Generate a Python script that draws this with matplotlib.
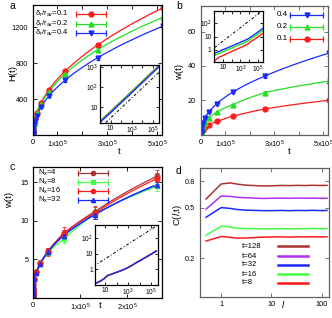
import numpy as np
import matplotlib
matplotlib.use("Agg")
import matplotlib.pyplot as plt
from matplotlib.lines import Line2D

plt.rcParams['font.family'] = ['Liberation Sans', 'DejaVu Sans']
plt.rcParams['mathtext.fontset'] = 'custom'
plt.rcParams['mathtext.rm'] = 'Liberation Sans'
plt.rcParams['mathtext.it'] = 'Liberation Sans:italic'
plt.rcParams['mathtext.default'] = 'regular'

W, H = 332, 318

# ---------------- data ----------------
t_a = 2.0 ** np.arange(0, 20)
H_red = [2.0, 2.8, 3.9, 5.5, 7.8, 11, 15.6, 22, 31, 44, 62, 88, 125, 177, 250, 352, 505, 712, 1005, 1420]
H_green = [1.9, 2.7, 3.8, 5.3, 7.5, 10.6, 15, 21, 30, 42, 60, 85, 121, 172, 243, 342, 482, 685, 952, 1314]
H_blue = [1.7, 2.4, 3.4, 4.7, 6.6, 9.4, 13.2, 18.7, 26.4, 37, 53, 75, 107, 152, 213, 308, 434, 611, 863, 1215]
Herr_red = [0, 0, 0, 0, 0, 0, 0, 0, 1, 1, 2, 2, 3, 4, 5, 8, 10, 14, 18, 22]
Herr_green = [0, 0, 0, 0, 0, 0, 0, 0, 1, 1, 2, 2, 3, 4, 5, 8, 10, 12, 16, 22]
Herr_blue = [0, 0, 0, 0, 0, 0, 0, 0, 1, 1, 2, 2, 3, 4, 6, 8, 12, 16, 22, 30]
labels_a = [r'$\delta_r/r_{av}$=0.1', r'$\delta_r/r_{av}$=0.2', r'$\delta_r/r_{av}$=0.4']
ref_a_t = [1, 5.2e5]
ref_a_y = [0.9, 650]

t_b = 2.0 ** np.arange(0, 20)
w_blue = [0.55, 0.68, 0.82, 1.0, 1.2, 1.45, 1.75, 2.1, 2.6, 3.1, 3.8, 4.6, 5.6, 7.0, 9.6, 12.9, 17.9, 24.7, 34.1, 47.5]
w_green = [0.38, 0.47, 0.57, 0.7, 0.85, 1.02, 1.23, 1.5, 1.8, 2.2, 2.65, 3.2, 3.9, 5.0, 7.0, 9.6, 12.9, 17.5, 24.4, 31.2]
w_red = [0.15, 0.22, 0.3, 0.36, 0.45, 0.55, 0.68, 0.83, 1.0, 1.25, 1.5, 1.85, 2.3, 2.9, 4.3, 5.7, 7.6, 10.6, 14.9, 20.0]
werr_blue = [0]*14 + [0.3, 0.4, 0.5, 0.7, 1.0, 1.5]
werr_green = [0]*14 + [0.2, 0.3, 0.4, 0.5, 0.8, 1.2]
werr_red = [0]*14 + [0.2, 0.2, 0.3, 0.4, 0.5, 0.6]
labels_b = ['0.4', '0.2', '0.1']
ref_b_t = [1, 5.2e5]
ref_b_y = [1.5, 1080]

t_c = 2.0 ** np.arange(0, 19)
w_n4 = [0.12, 0.14, 0.18, 0.25, 0.40, 0.48, 0.58, 0.70, 0.85, 1.05, 1.35, 1.8, 2.5, 3.4, 4.5, 6.1, 8.3, 11.2, 15.8]
w_n8 = [0.12, 0.14, 0.18, 0.25, 0.40, 0.48, 0.58, 0.70, 0.85, 1.05, 1.35, 1.8, 2.5, 3.3, 4.6, 5.9, 7.6, 10.9, 14.5]
w_n16 = [0.12, 0.14, 0.18, 0.25, 0.40, 0.48, 0.58, 0.70, 0.85, 1.05, 1.35, 1.8, 2.5, 3.4, 4.5, 6.0, 8.4, 11.0, 15.5]
w_n32 = [0.12, 0.14, 0.18, 0.25, 0.40, 0.48, 0.58, 0.70, 0.85, 1.05, 1.35, 1.8, 2.5, 3.3, 4.4, 6.0, 8.1, 10.8, 14.7]
werr_n4 = [0]*12 + [0.1, 0.2, 0.3, 0.4, 0.5, 0.7, 0.8]
werr_n8 = [0]*12 + [0.1, 0.2, 0.3, 0.4, 0.5, 0.6, 0.6]
werr_n16 = [0]*12 + [0.1, 0.2, 0.3, 0.5, 0.8, 0.8, 0.7]
werr_n32 = [0]*12 + [0.1, 0.1, 0.2, 0.3, 0.4, 0.5, 0.4]
labels_c = [r'N$_x$=4', r'N$_x$=8', r'N$_x$=16', r'N$_x$=32']
ref_c_t = [1, 3e5]
ref_c_y = [1.6, 650]

l_d = [0.5, 1, 1.5, 2, 3, 4, 6, 8, 12, 16, 24, 32, 48, 64, 96, 128]
C_128 = [0.584, 0.765, 0.78, 0.765, 0.75, 0.745, 0.74, 0.738, 0.742, 0.745, 0.743, 0.746, 0.744, 0.747, 0.745, 0.746]
C_64 = [0.487, 0.616, 0.612, 0.603, 0.597, 0.595, 0.59, 0.59, 0.592, 0.593, 0.591, 0.594, 0.592, 0.593, 0.591, 0.592]
C_32 = [0.42, 0.50, 0.493, 0.484, 0.478, 0.476, 0.474, 0.473, 0.474, 0.475, 0.473, 0.475, 0.474, 0.476, 0.474, 0.475]
C_16 = [0.304, 0.358, 0.352, 0.346, 0.343, 0.342, 0.342, 0.341, 0.342, 0.343, 0.341, 0.343, 0.342, 0.344, 0.342, 0.343]
C_8 = [0.274, 0.297, 0.293, 0.289, 0.289, 0.291, 0.293, 0.294, 0.295, 0.295, 0.294, 0.296, 0.295, 0.296, 0.295, 0.296]
labels_d = ['t=128', 't=64', 't=32', 't=16', 't=8']

RED = '#ff1a1a'
GREEN = '#22e022'
BLUE = '#1a2aff'
BROWN = '#a83232'
PURPLE = '#b030f0'
LGREEN = '#44ff44'
GRAY = '#606060'

TICK_FS = 5.3
LEG_FS = 5.5
LAB_FS = 6.8

fig = plt.figure(figsize=(W / 100, H / 100), dpi=100)


def ax_at(x0, y0, x1, y1):
    return fig.add_axes([x0 / W, 1 - y1 / H, (x1 - x0) / W, (y1 - y0) / H])


def fx(px):
    return px / W


def fy(py):
    return 1 - py / H


def style(ax, fcolor='black', ls=TICK_FS):
    ax.tick_params(direction='in', length=3, width=0.6, labelsize=ls, pad=3,
                   top=True, right=True, colors=fcolor, labelcolor='black')
    for s in ax.spines.values():
        s.set_color(fcolor)
        s.set_linewidth(0.9)


def smooth(t, y, n=400):
    t = np.asarray(t, float)
    y = np.asarray(y, float)
    tt = np.logspace(np.log10(t[0]), np.log10(t[-1]), n)
    yy = np.exp(np.interp(np.log(tt), np.log(t), np.log(y)))
    return tt, yy


def legend_sample(xa, xb, y, color, marker=None, ms=3.5, lw=0.9, caps=True):
    fig.add_artist(Line2D([fx(xa), fx(xb)], [fy(y), fy(y)], color=color, lw=lw,
                          transform=fig.transFigure))
    if caps:
        fig.add_artist(Line2D([fx(xa), fx(xb)], [fy(y), fy(y)], color=color, lw=0,
                              marker='|', ms=4, mew=0.9, transform=fig.transFigure))
    if marker:
        fig.add_artist(Line2D([fx((xa + xb) / 2)], [fy(y)], color=color, lw=0,
                              marker=marker, ms=ms, transform=fig.transFigure))


xt_lin = [0, 1e5, 2e5, 3e5, 4e5, 5e5]
xt_lin_lab = ['0', r'1x10$^5$', '', r'3x10$^5$', '', r'5x10$^5$']

# ---------------- panel a ----------------
axa = ax_at(32.5, 5, 162, 135)
style(axa)
series_a = [(H_red, Herr_red, RED, 'o'), (H_green, Herr_green, GREEN, '^'),
            (H_blue, Herr_blue, BLUE, 'v')]
for y, e, c, m in series_a:
    tt, yy = smooth(t_a, y)
    axa.plot(tt, yy, color=c, lw=0.9)
    axa.errorbar(t_a, y, yerr=e, fmt=m, color=c, ms=3.5, elinewidth=0.7, capsize=1.5, capthick=0.7)
axa.set_xlim(0, 5.2e5)
axa.set_ylim(0, 1450)
axa.set_xticks(xt_lin)
axa.set_xticklabels(xt_lin_lab)
axa.set_yticks([0, 400, 800, 1200])
axa.set_yticklabels(['', '400', '800', '1200'])

ins_a = ax_at(100, 65, 159, 123)
style(ins_a, ls=4.8)
ins_a.tick_params(length=2, pad=1.5)
for y, e, c, m in series_a:
    ins_a.loglog(t_a, y, color=c, lw=1.0)
ins_a.loglog(ref_a_t, ref_a_y, color='black', lw=0.7, ls=(0, (3, 2, 1, 2)))
ins_a.set_xlim(1, 3.7e5)
ins_a.set_ylim(1.6, 1260)
ins_a.minorticks_off()
ins_a.set_xticks([10, 1e2, 1e3, 1e4, 1e5])
ins_a.set_xticklabels(['10', '', r'10$^3$', '', r'10$^5$'])
ins_a.set_yticks([10, 1e2, 1e3])
ins_a.set_yticklabels(['10', r'10$^2$', r'10$^3$'])

for lab, yy, (y, e, c, m) in zip(labels_a, [14, 24, 33], series_a):
    fig.text(fx(35), fy(yy), lab, fontsize=LEG_FS, ha='left', va='center')
    legend_sample(76, 106, yy, c, m)

# ---------------- panel b ----------------
axb = ax_at(200.5, 6, 328, 134.5)
style(axb, GRAY)
series_b = [(w_blue, werr_blue, BLUE, 'v'), (w_green, werr_green, GREEN, '^'),
            (w_red, werr_red, RED, 'o')]
for y, e, c, m in series_b[::-1]:
    tt, yy = smooth(t_b, y)
    axb.plot(tt, yy, color=c, lw=0.9)
    axb.errorbar(t_b, y, yerr=e, fmt=m, color=c, ms=3.5, elinewidth=0.7, capsize=1.5, capthick=0.7)
axb.set_xlim(0, 5.2e5)
axb.set_ylim(0, 75)
axb.set_xticks(xt_lin)
axb.set_xticklabels(xt_lin_lab)
axb.set_yticks([0, 20, 40, 60])
axb.set_yticklabels(['', '20', '40', '60'])

ins_b = ax_at(213.7, 11, 262.7, 61.7)
style(ins_b, ls=4.8)
ins_b.tick_params(length=2, pad=1.5)
for y, e, c, m in series_b:
    ins_b.loglog(t_b, y, color=c, lw=1.0)
ins_b.loglog(ref_b_t, ref_b_y, color='black', lw=0.7, ls=(0, (3, 2, 1, 2)))
ins_b.set_xlim(0.8, 3.8e5)
ins_b.set_ylim(0.13, 850)
ins_b.minorticks_off()
ins_b.set_xticks([10, 1e2, 1e3, 1e4, 1e5])
ins_b.set_xticklabels(['10', '', r'10$^3$', '', r'10$^5$'])
ins_b.set_yticks([1, 10, 1e2])
ins_b.set_yticklabels(['1', '10', r'10$^2$'])

for lab, yy, (y, e, c, m) in zip(labels_b, [15, 27, 39], series_b):
    fig.text(fx(277), fy(yy), lab, fontsize=LEG_FS + 0.3, ha='left', va='center')
    legend_sample(290, 323, yy, c, m)

# ---------------- panel c ----------------
axc = ax_at(32.5, 167, 162, 298)
style(axc)
series_c = [(w_n4, werr_n4, BROWN, 'o'), (w_n8, werr_n8, LGREEN, 's'),
            (w_n16, werr_n16, RED, 'o'), (w_n32, werr_n32, BLUE, '^')]
for y, e, c, m in series_c:
    tt, yy = smooth(t_c, y)
    axc.plot(tt, yy, color=c, lw=0.9)
for y, e, c, m in series_c:
    axc.errorbar(t_c, y, yerr=e, fmt=m, color=c, ms=3.2 if m != 'o' else 3.5,
                 elinewidth=0.7, capsize=1.5, capthick=0.7, alpha=0.85)
tt, yy = smooth(t_c, w_n32)
axc.plot(tt, yy, color=BLUE, lw=0.9)
axc.set_xlim(0, 2.73e5)
axc.set_ylim(0, 17)
axc.set_xticks([0, 1e5, 2e5])
axc.set_xticklabels(['0', r'1x10$^5$', r'2x10$^5$'])
axc.set_yticks([0, 5, 10, 15])
axc.set_yticklabels(['', '5', '10', '15'])

ins_c = ax_at(95, 225, 158.3, 285)
style(ins_c, ls=4.8)
ins_c.tick_params(length=2, pad=1.5)
for y, e, c, m in series_c:
    ins_c.loglog(t_c, y, color=c, lw=1.0)
ins_c.loglog(ref_c_t, ref_c_y, color='black', lw=0.7, ls=(0, (3, 2, 1, 2)))
ins_c.set_xlim(1.35, 4e5)
ins_c.set_ylim(0.1, 720)
ins_c.minorticks_off()
ins_c.set_xticks([10, 1e2, 1e3, 1e4, 1e5])
ins_c.set_xticklabels(['10', '', r'10$^3$', '', r'10$^5$'])
ins_c.set_yticks([1, 10, 1e2])
ins_c.set_yticklabels(['1', '10', r'10$^2$'])

for lab, yy, (y, e, c, m) in zip(labels_c, [173, 182, 191.3, 200.3], series_c):
    fig.text(fx(37.5), fy(yy), lab, fontsize=LEG_FS, ha='left', va='center')
    legend_sample(77.7, 108.3, yy, c, m, ms=3.0)

# ---------------- panel d ----------------
axd = ax_at(199.5, 168, 329, 297)
style(axd, GRAY)
series_d = [(C_128, BROWN), (C_64, PURPLE), (C_32, BLUE), (C_16, LGREEN), (C_8, RED)]
for y, c in series_d:
    axd.plot(l_d, y, color=c, lw=1.1)
axd.set_xscale('log')
axd.set_yscale('log')
axd.set_xlim(0.37, 140)
axd.set_ylim(0.1, 1.02)
axd.minorticks_off()
axd.set_xticks([1, 10, 100])
axd.set_xticklabels(['1', '10', '100'])
axd.set_yticks([0.2, 0.5, 0.8])
axd.set_yticklabels(['0.2', '0.5', '0.8'])

for lab, yy, (y, c) in zip(labels_d, [246.3, 256.3, 264.7, 274, 283], series_d):
    fig.text(fx(242), fy(yy), lab, fontsize=LEG_FS, ha='left', va='center')
    legend_sample(277.7, 307.7, yy, c, None, lw=1.8, caps=False)

# ---------------- labels ----------------
fig.text(fx(12), fy(6), 'a', fontsize=7.5, ha='center', va='center')
fig.text(fx(179), fy(6), 'b', fontsize=7.5, ha='center', va='center')
fig.text(fx(12), fy(167), 'c', fontsize=7.5, ha='center', va='center')
fig.text(fx(179), fy(171), 'd', fontsize=7.5, ha='center', va='center')

fig.text(fx(13), fy(73), 'H(t)', fontsize=LAB_FS, rotation=90, ha='center', va='center')
fig.text(fx(180), fy(72), 'w(t)', fontsize=LAB_FS, rotation=90, ha='center', va='center')
fig.text(fx(10), fy(200), 'w(t)', fontsize=LAB_FS, rotation=90, ha='center', va='center')
fig.text(fx(177), fy(215), r'C($\it{l}$,t)', fontsize=LAB_FS, rotation=90, ha='center', va='center')

fig.text(fx(119), fy(151), 't', fontsize=LAB_FS, ha='center', va='center')
fig.text(fx(289), fy(151), 't', fontsize=LAB_FS, ha='center', va='center')
fig.text(fx(100), fy(305), 't', fontsize=LAB_FS, ha='center', va='center')
fig.text(fx(283), fy(304), r'$\it{l}$', fontsize=LAB_FS, ha='center', va='center')

fig.savefig('out.png', dpi=100)
